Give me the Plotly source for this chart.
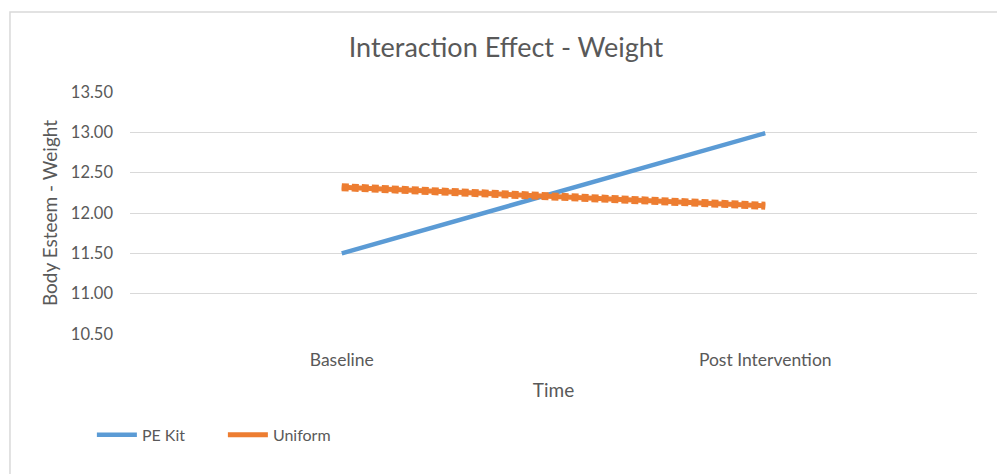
import plotly.graph_objects as go

categories = ["Baseline", "Post Intervention"]
pe_kit = [11.50, 12.99]
uniform = [12.32, 12.09]
y_ticks = [10.5, 11.0, 11.5, 12.0, 12.5, 13.0, 13.5]

FONT = "Lato"
GREY = "#595959"

fig = go.Figure()
fig.add_trace(go.Scatter(x=categories, y=pe_kit, mode="lines", name="PE Kit",
                         line=dict(color="#5B9BD5", width=4.5)))
fig.add_trace(go.Scatter(x=categories, y=uniform, mode="lines", name="Uniform",
                         legendgroup="u", showlegend=False,
                         line=dict(color="#ED7D31", width=8, dash="7px,3px")))
fig.add_trace(go.Scatter(x=categories, y=uniform, mode="lines", name="Uniform",
                         legendgroup="u",
                         line=dict(color="#ED7D31", width=5)))

fig.update_layout(
    width=1005, height=474,
    margin=dict(l=122, r=36, t=84, b=148, autoexpand=False),
    paper_bgcolor="white", plot_bgcolor="white",
    font=dict(family=FONT, color=GREY, size=15),
    title=dict(text="Interaction Effect - Weight", x=498 / 1005, xanchor="center",
               y=1 - 40 / 474, yanchor="middle",
               font=dict(size=27, color=GREY, family=FONT)),
    showlegend=True,
    legend=dict(orientation="h", x=-0.045, xanchor="left", y=-0.417, yanchor="middle",
                font=dict(size=16, color=GREY), itemwidth=40, entrywidth=76,
                tracegroupgap=0, bgcolor="rgba(0,0,0,0)"),
    shapes=[dict(type="rect", xref="paper", yref="paper",
                 x0=-0.1417, x1=1.0283, y0=-0.7, y1=1.3306,
                 line=dict(color="#d9d9d9", width=1.5), layer="below")],
)
fig.update_xaxes(type="category", range=[-0.5, 1.5], automargin=False,
                 showgrid=False, showline=False, zeroline=False,
                 ticks="", ticklabelstandoff=13, tickfont=dict(size=17.5, color=GREY),
                 title=dict(text="Time", font=dict(size=19, color=GREY), standoff=15))
fig.update_yaxes(range=[10.5, 13.5], tickvals=y_ticks, tickformat=".2f", automargin=False,
                 showgrid=True, gridcolor="#d9d9d9", gridwidth=1.2, zeroline=False,
                 showline=False, ticks="", ticklabelstandoff=16,
                 tickfont=dict(size=16.5, color=GREY),
                 title=dict(text="Body Esteem - Weight", font=dict(size=19, color=GREY), standoff=8))

fig.write_html("out.html")
